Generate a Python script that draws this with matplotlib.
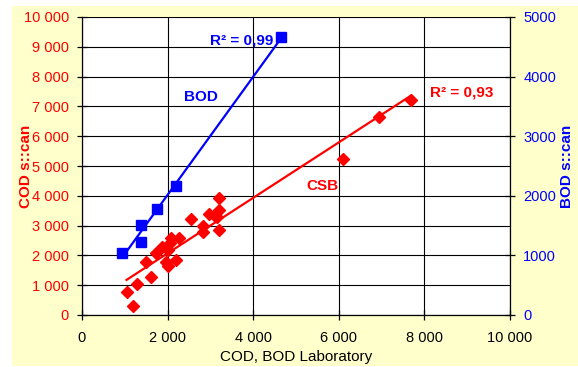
import numpy as np
import matplotlib
matplotlib.use("Agg")
import matplotlib.pyplot as plt
from matplotlib.patches import Rectangle
from matplotlib.ticker import FuncFormatter

plt.rcParams['font.family'] = ['Liberation Sans', 'DejaVu Sans']

# COD (CSB) data: laboratory vs s::can
cod_lab = [1040, 1190, 1290, 1500, 1610, 1720, 1860, 1960, 2000, 2020, 2060, 2080, 2200,
           2270, 2550, 2820, 2830, 2970, 3100, 3160, 3200, 3210, 3210, 6090, 6940, 7680]
cod_scan = [770, 310, 1050, 1770, 1285, 2070, 2280, 1770, 1660, 2180, 2400, 2580, 1840,
            2600, 3230, 2780, 2980, 3390, 3330, 3300, 3940, 3510, 2860, 5230, 6650, 7200]

# BOD data: laboratory vs s::can
bod_lab = [940, 1380, 1380, 1750, 2190, 4650]
bod_scan = [1045, 1220, 1505, 1785, 2165, 4660]

left_ticks = [0, 1000, 2000, 3000, 4000, 5000, 6000, 7000, 8000, 9000, 10000]
right_ticks = [0, 1000, 2000, 3000, 4000, 5000]
x_ticks = [0, 2000, 4000, 6000, 8000, 10000]

RED = '#FF0000'
BLUE = '#0000FF'

fig = plt.figure(figsize=(5.78, 3.67), dpi=100)
fig.patch.set_facecolor('white')
fig.patches.append(Rectangle((12 / 578, 1 / 367), 566 / 578, 360 / 367,
                             transform=fig.transFigure, facecolor='#FFFFCC',
                             edgecolor='none', zorder=-10))

ax = fig.add_axes([82 / 578, 1 - 315 / 367, 428 / 578, 298 / 367])
ax.set_facecolor('white')
ax2 = ax.twinx()

def sep(v, pos):
    return f"{int(v):,}".replace(',', ' ')

ax.set_xlim(0, 10000)
ax.set_ylim(0, 10000)
ax2.set_ylim(0, 5000)
ax.set_xticks(x_ticks)
ax.set_yticks(left_ticks)
ax2.set_yticks(right_ticks)
ax.xaxis.set_major_formatter(FuncFormatter(sep))
ax.yaxis.set_major_formatter(FuncFormatter(sep))

ax.grid(True, color='black', linewidth=0.8)
ax.set_axisbelow(True)

for a in (ax, ax2):
    a.spines['top'].set_visible(False)
    for s in ('left', 'bottom', 'right'):
        a.spines[s].set_color('black')
        a.spines[s].set_linewidth(0.9)
ax.spines['right'].set_visible(False)
ax2.spines['left'].set_visible(False)
ax2.spines['bottom'].set_visible(False)

ax.tick_params(axis='both', direction='inout', length=7, width=0.9, labelsize=10.5)
ax.tick_params(axis='y', labelcolor=RED, pad=6)
ax.tick_params(axis='x', labelcolor='black', pad=8)
ax2.tick_params(axis='y', direction='inout', length=7, width=0.9, labelsize=10.5,
                labelcolor=BLUE, pad=6)

# COD series and trend
ax.plot(cod_lab, cod_scan, linestyle='none', marker='D', markersize=6,
        color=RED, zorder=3, clip_on=False)
p = np.polyfit(cod_lab, cod_scan, 1)
xr = np.array([min(cod_lab), max(cod_lab)])
ax.plot(xr, np.polyval(p, xr), color=RED, linewidth=1.6, zorder=3)

# BOD series and trend
ax2.plot(bod_lab, bod_scan, linestyle='none', marker='s', markersize=6.5,
         color=BLUE, zorder=3, clip_on=False)
q = np.polyfit(bod_lab, bod_scan, 1)
xb = np.array([min(bod_lab), max(bod_lab)])
ax2.plot(xb, np.polyval(q, xb), color=BLUE, linewidth=1.6, zorder=3)

ax.set_xlabel('COD, BOD Laboratory', fontsize=11, color='black')
ax.xaxis.set_label_coords(0.5, -(357 - 315) / 298)
ax.set_ylabel('COD s::can', fontsize=11, color=RED, fontweight='bold')
ax.yaxis.set_label_coords((26 - 82) / 428, 0.5)
ax2.set_ylabel('BOD s::can', fontsize=11, color=BLUE, fontweight='bold')
ax2.yaxis.set_label_coords((567 - 82) / 428, 0.5)
ax.xaxis.label.set_va('center')
ax.yaxis.label.set_va('center')
ax2.yaxis.label.set_va('center')

ax.text(2775, 7305, 'BOD', color=BLUE, fontsize=11, fontweight='bold',
        ha='center', va='center')
ax.text(3727, 9205, 'R² = 0,99', color=BLUE, fontsize=11, fontweight='bold',
        ha='center', va='center')
ax.text(8879, 7460, 'R² = 0,93', color=RED, fontsize=11, fontweight='bold',
        ha='center', va='center')
ax.text(5619, 4329, 'CSB', color=RED, fontsize=11, fontweight='bold',
        ha='center', va='center')

fig.savefig('out.png', dpi=100)
